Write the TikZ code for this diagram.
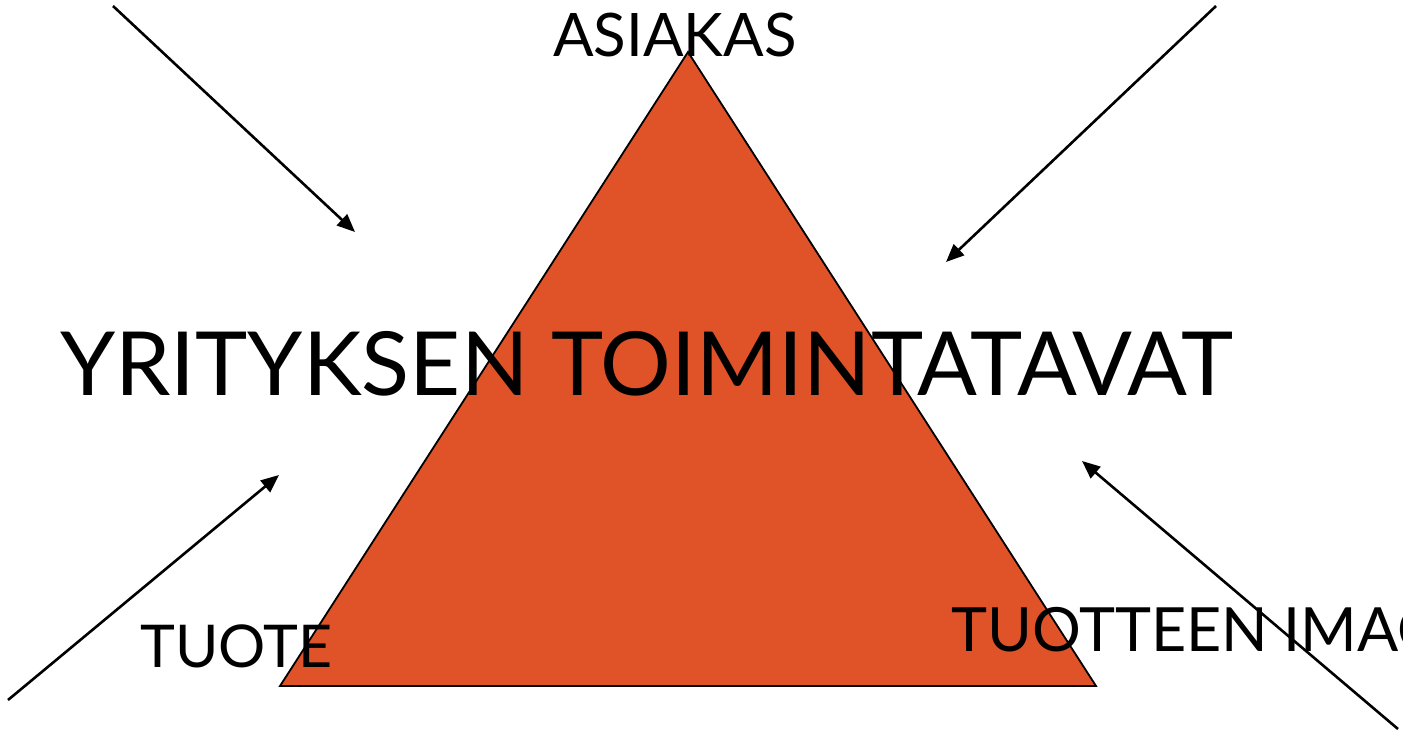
\documentclass[tikz,border=0pt]{standalone}
\usepackage{fontspec}
\setmainfont{Lato}
\usetikzlibrary{arrows.meta}
\definecolor{tri}{RGB}{224,83,40}
\begin{document}
\begin{tikzpicture}[x=1pt,y=-1pt,
  lbl/.style={inner sep=0pt,anchor=base west,text=black},
  arr/.style={line width=2.6pt,-{Triangle[length=18pt,width=15pt]}}]
\useasboundingbox (0,0) rectangle (1403,731);
\clip (0,0) rectangle (1403,731);
\fill[white] (0,0) rectangle (1403,731);
\draw[fill=tri,line width=1.8pt] (688,52) -- (280,686) -- (1096,686) -- cycle;
\node[lbl,font=\fontsize{60}{60}\selectfont] (asiakas) at (553,56) {ASIAKAS};
\node[lbl,font=\fontsize{88.5}{88.5}\selectfont] (main) at (60,395) {YRITYKSEN TOIMINTATAVAT};
\node[lbl,font=\fontsize{59}{59}\selectfont] (tuote) at (140,667) {TUOTE};
\node[lbl,font=\fontsize{61}{61}\selectfont] (imago) at (951,651) {TUOTTEEN IMAGO};
\coordinate (a1s) at (113,6); \coordinate (a1e) at (355,232);
\coordinate (a2s) at (1216,6); \coordinate (a2e) at (946,262);
\coordinate (a3s) at (8,700); \coordinate (a3e) at (279,475);
\coordinate (a4s) at (1398,729); \coordinate (a4e) at (1082,461);
\draw[arr] (a1s) -- (a1e);
\draw[arr] (a2s) -- (a2e);
\draw[arr] (a3s) -- (a3e);
\draw[arr] (a4s) -- (a4e);
\end{tikzpicture}
\end{document}
